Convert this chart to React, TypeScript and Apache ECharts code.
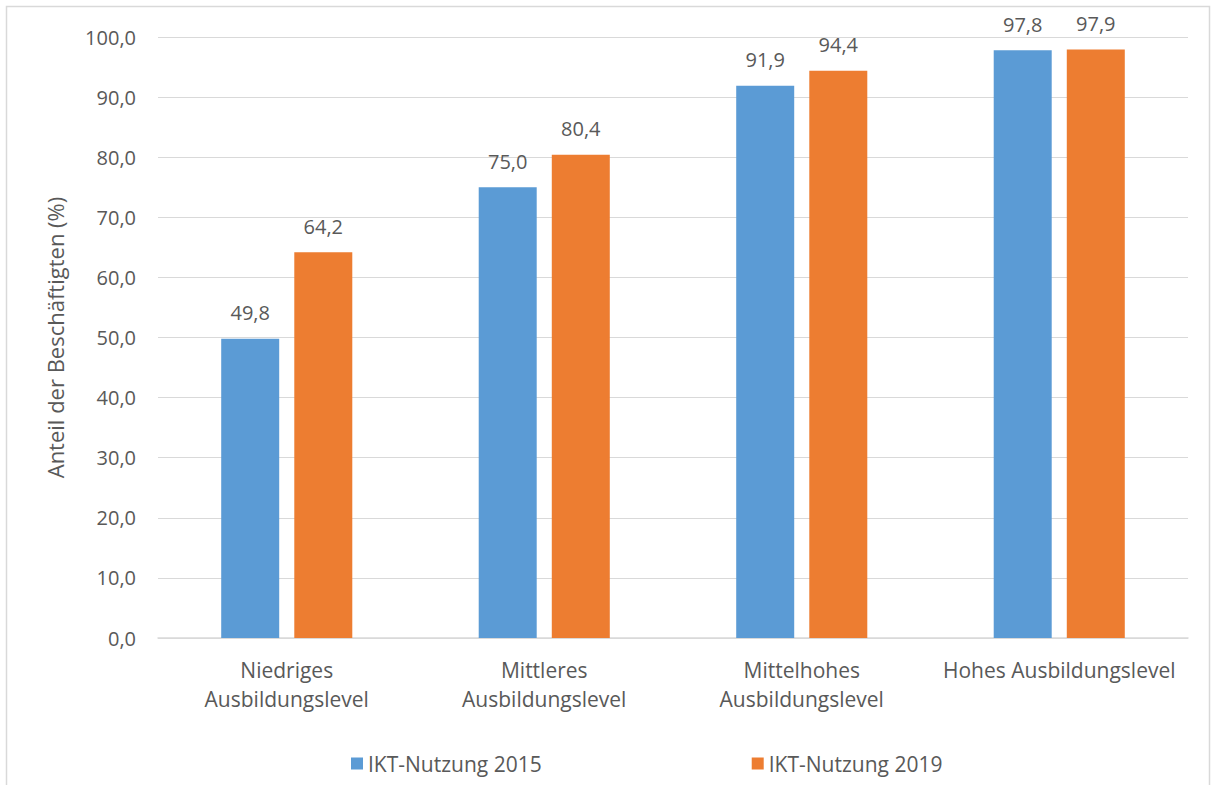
import React, { useEffect, useRef } from "react";
import * as echarts from "echarts";

const categories = [
  "Niedriges\nAusbildungslevel",
  "Mittleres\nAusbildungslevel",
  "Mittelhohes\nAusbildungslevel",
  "Hohes Ausbildungslevel",
];
const series2015 = [49.8, 75.0, 91.9, 97.8];
const series2019 = [64.2, 80.4, 94.4, 97.9];
const seriesNames = ["IKT-Nutzung 2015", "IKT-Nutzung 2019"];

const FONT = "'Open Sans', sans-serif";
const TXT = "#595959";
const fmt = (v: number) => v.toFixed(1).replace(".", ",");

export default function App() {
  const ref = useRef<HTMLDivElement>(null);
  useEffect(() => {
    if (!ref.current) return;
    const chart = echarts.init(ref.current, undefined, { renderer: "svg" });
    const labelCfg = {
      show: true,
      position: "top" as const,
      distance: 16,
      color: TXT,
      fontFamily: FONT,
      fontSize: 20,
      formatter: (p: any) => fmt(p.value),
    };
    chart.setOption({
      animation: false,
      backgroundColor: "#ffffff",
      textStyle: { fontFamily: FONT },
      graphic: [
        {
          type: "rect",
          shape: { x: 6.5, y: 6.5, width: 1203, height: 800 },
          style: { fill: "none", stroke: "#d9d9d9", lineWidth: 1.5 },
          silent: true,
        },
      ],
      grid: { left: 158, right: 24, top: 37, bottom: 147, containLabel: false },
      legend: {
        data: seriesNames,
        left: 346,
        top: 748,
        itemWidth: 12,
        itemHeight: 12,
        itemGap: 210,
        icon: "rect",
        textStyle: { color: TXT, fontFamily: FONT, fontSize: 21 },
      },
      xAxis: {
        type: "category",
        data: categories,
        axisLine: { lineStyle: { color: "#d9d9d9", width: 1.5 } },
        axisTick: { show: false },
        axisLabel: {
          color: TXT,
          fontFamily: FONT,
          fontSize: 21,
          lineHeight: 29,
          margin: 17,
          interval: 0,
        },
      },
      yAxis: {
        type: "value",
        min: 0,
        max: 100,
        interval: 10,
        name: "Anteil der Beschäftigten (%)",
        nameLocation: "middle",
        nameGap: 92,
        nameTextStyle: { color: TXT, fontFamily: FONT, fontSize: 22 },
        axisLine: { show: false },
        axisTick: { show: false },
        splitLine: { lineStyle: { color: "#d9d9d9", width: 1.2 } },
        axisLabel: {
          color: TXT,
          fontFamily: FONT,
          fontSize: 20,
          margin: 22,
          formatter: (v: number) => fmt(v),
        },
      },
      series: [
        {
          name: seriesNames[0],
          type: "bar",
          data: series2015,
          itemStyle: { color: "#5b9bd5" },
          barWidth: 58,
          barGap: "26%",
          label: labelCfg,
        },
        {
          name: seriesNames[1],
          type: "bar",
          data: series2019,
          itemStyle: { color: "#ed7d31" },
          barWidth: 58,
          label: labelCfg,
        },
      ],
    });
    return () => chart.dispose();
  }, []);
  return (
    <div
      ref={ref}
      style={{ position: "fixed", left: 0, top: 0, width: 1212, height: 785, background: "#fff" }}
    />
  );
}
